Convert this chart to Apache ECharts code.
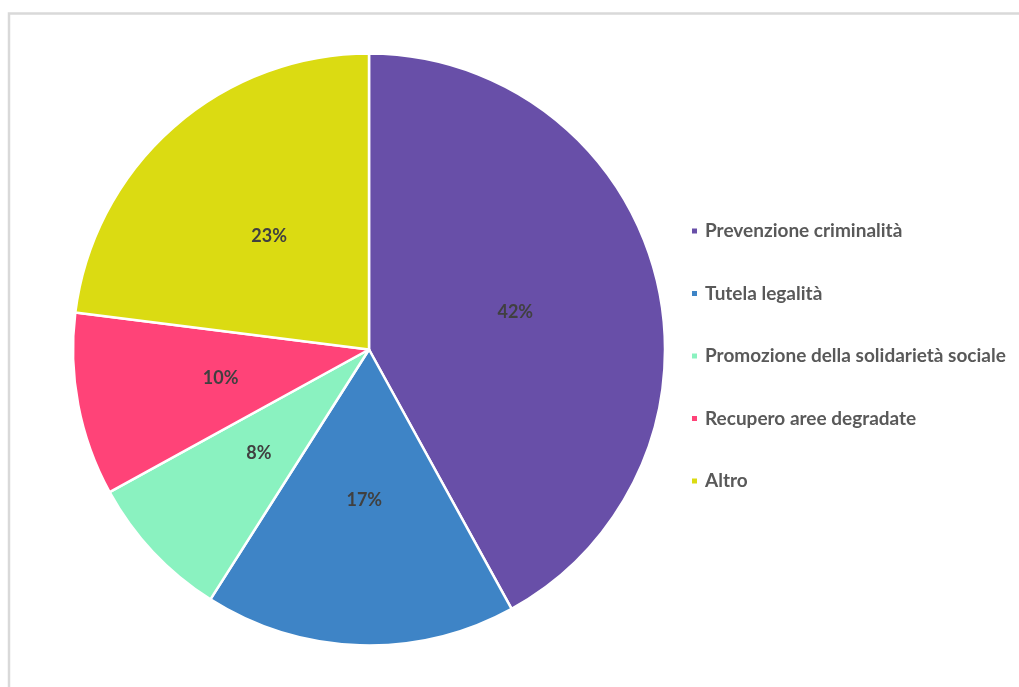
<!DOCTYPE html>
<html>
<head>
<meta charset="utf-8">
<script src="https://cdn.jsdelivr.net/npm/echarts@6/dist/echarts.min.js"></script>
<style>
  html, body { margin: 0; padding: 0; background: #fff; }
  #chart { width: 1019px; height: 687px; }
</style>
</head>
<body>
<div id="chart"></div>
<script>
// Categories and shares (%) of the pie
const categories = [
  'Prevenzione criminalità',
  'Tutela legalità',
  'Promozione della solidarietà sociale',
  'Recupero aree degradate',
  'Altro'
];
const shares = [42, 17, 8, 10, 23];
const colors = ['#684FA8', '#3E84C6', '#8AF2C0', '#FF4378', '#DBDB12'];

const chart = echarts.init(document.getElementById('chart'));

chart.setOption({
  animation: false,
  color: colors,
  graphic: [{
    type: 'rect',
    shape: { x: 9, y: 13.5, width: 1200, height: 800 },
    style: { fill: 'none', stroke: '#d9d9d9', lineWidth: 2.5 },
    silent: true
  }],
  legend: {
    orient: 'vertical',
    left: 685,
    top: 216.5,
    itemWidth: 7,
    itemHeight: 7,
    itemGap: 43.5,
    icon: 'rect',
    textStyle: {
      fontFamily: 'Lato',
      fontWeight: 'bold',
      fontSize: 19,
      color: '#595959',
      padding: [0, 0, 0, 2]
    },
    data: categories
  },
  series: [{
    type: 'pie',
    center: [369, 349.5],
    radius: [0, 296],
    startAngle: 90,
    clockwise: true,
    avoidLabelOverlap: false,
    itemStyle: { borderColor: '#ffffff', borderWidth: 2.5 },
    label: {
      show: true,
      position: 'inside',
      formatter: '{c}%',
      fontFamily: 'Lato',
      fontWeight: 'bold',
      fontSize: 18,
      color: '#404040'
    },
    labelLine: { show: false },
    emphasis: { disabled: true },
    data: categories.map((name, i) => ({ name: name, value: shares[i] }))
  }]
});
</script>
</body>
</html>
